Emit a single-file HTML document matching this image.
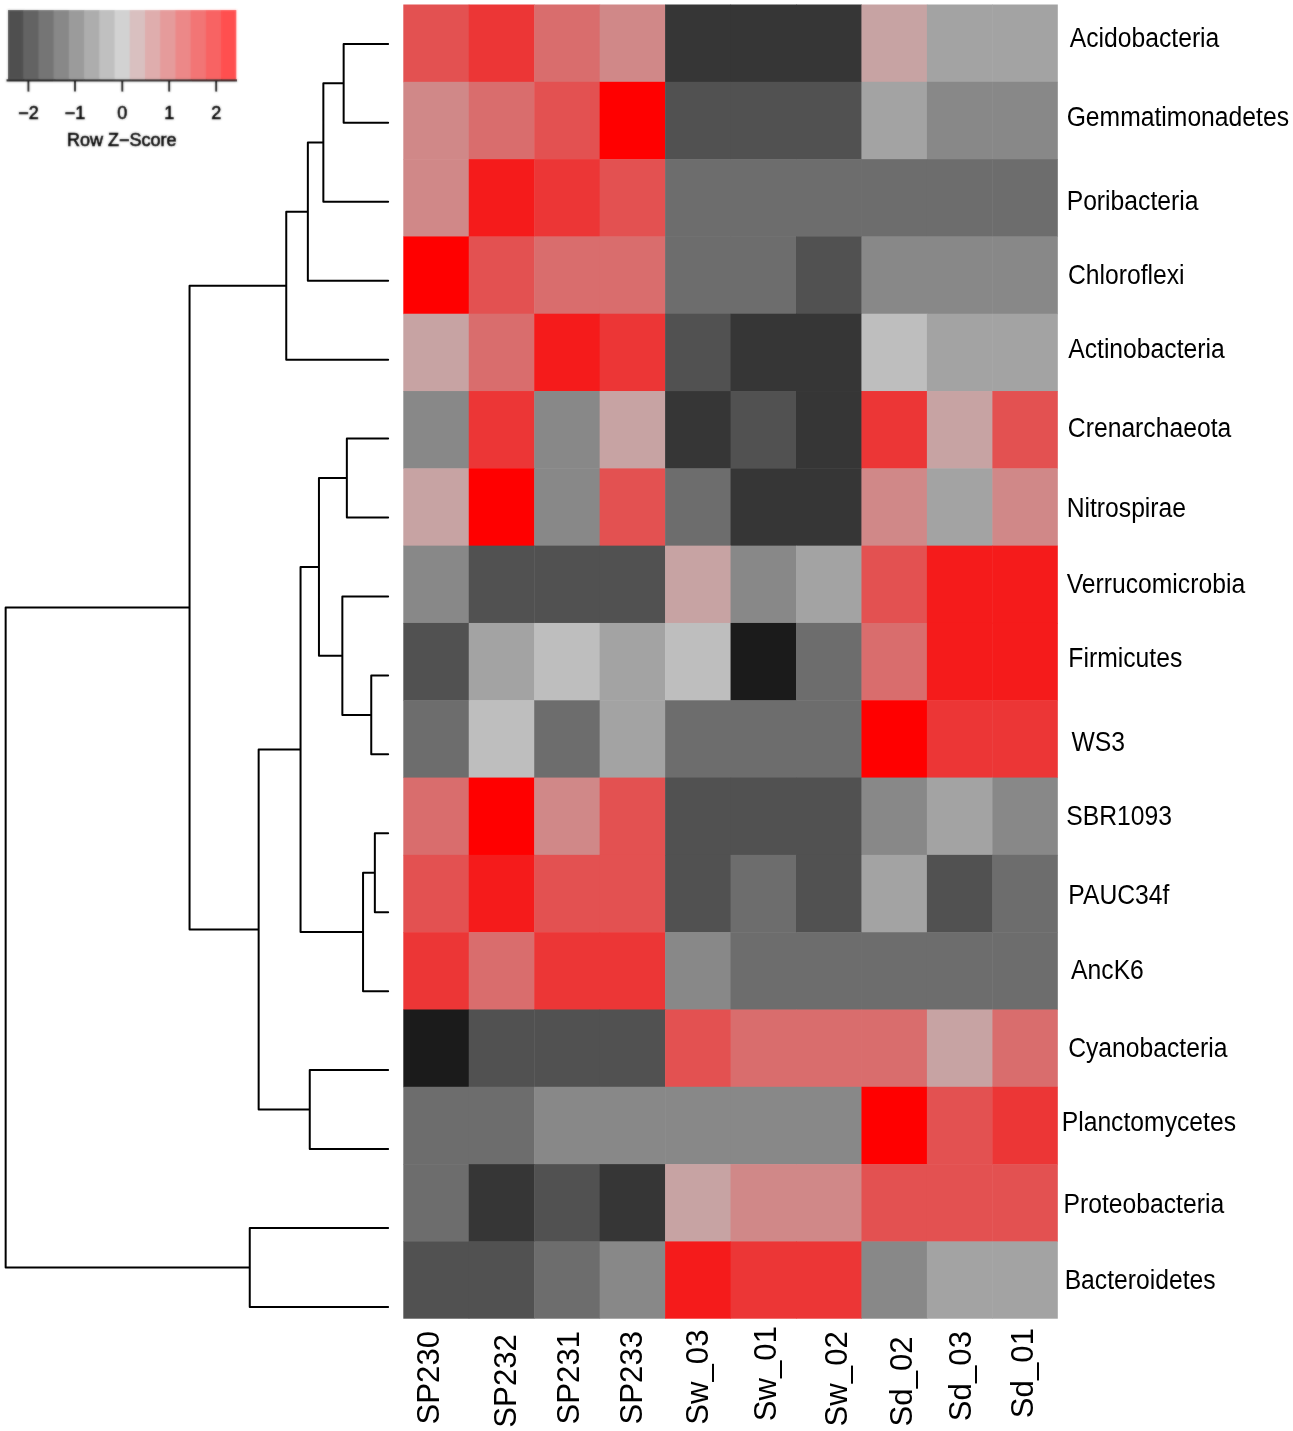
<!DOCTYPE html>
<html lang="en">
<head>
<meta charset="utf-8">
<title>Row Z-Score heatmap</title>
<style>
html,body{margin:0;padding:0;background:#ffffff;}
body{width:1293px;height:1431px;overflow:hidden;}
svg{display:block;}
text{font-family:"Liberation Sans",Arial,Helvetica,sans-serif;fill:#000;}
.rl{font-size:24.7px;}
.cl{font-size:31.2px;}
.kl{font-size:18px;fill:#000;stroke:#000;stroke-width:0.6;}
.d{fill:none;stroke:#000;stroke-width:2;stroke-linejoin:round;stroke-linecap:round;}
</style>
</head>
<body>
<svg width="1293" height="1431" viewBox="0 0 1293 1431">
<rect x="0" y="0" width="1293" height="1431" fill="#ffffff"/>

<defs><filter id="soft" x="-5%" y="-10%" width="110%" height="130%"><feGaussianBlur in="SourceGraphic" stdDeviation="0.8" result="b"/><feComposite in="SourceGraphic" in2="b" operator="arithmetic" k1="0" k2="0.5" k3="0.5" k4="0"/></filter></defs>
<g id="key" filter="url(#soft)">
<rect x="8.00" y="10.00" width="16.22" height="69.60" fill="#505050"/>
<rect x="23.22" y="10.00" width="16.22" height="69.60" fill="#636363"/>
<rect x="38.44" y="10.00" width="16.22" height="69.60" fill="#757575"/>
<rect x="53.66" y="10.00" width="16.22" height="69.60" fill="#888888"/>
<rect x="68.88" y="10.00" width="16.22" height="69.60" fill="#9b9b9b"/>
<rect x="84.10" y="10.00" width="16.22" height="69.60" fill="#adadad"/>
<rect x="99.32" y="10.00" width="16.22" height="69.60" fill="#c0c0c0"/>
<rect x="114.54" y="10.00" width="16.22" height="69.60" fill="#d2d2d2"/>
<rect x="129.76" y="10.00" width="16.22" height="69.60" fill="#d9c0c0"/>
<rect x="144.98" y="10.00" width="16.22" height="69.60" fill="#dfadad"/>
<rect x="160.20" y="10.00" width="16.22" height="69.60" fill="#e59b9b"/>
<rect x="175.42" y="10.00" width="16.22" height="69.60" fill="#ec8888"/>
<rect x="190.64" y="10.00" width="16.22" height="69.60" fill="#f27575"/>
<rect x="205.86" y="10.00" width="16.22" height="69.60" fill="#f86363"/>
<rect x="221.08" y="10.00" width="15.22" height="69.60" fill="#ff5050"/>
<line x1="6.5" y1="80.4" x2="237" y2="80.4" stroke="#1a1a1a" stroke-width="2.1"/>
<line x1="28.4" y1="80.4" x2="28.4" y2="91.6" stroke="#1a1a1a" stroke-width="1.9"/>
<text class="kl" x="28.4" y="118.8" text-anchor="middle">−2</text>
<line x1="75.0" y1="80.4" x2="75.0" y2="91.6" stroke="#1a1a1a" stroke-width="1.9"/>
<text class="kl" x="75.0" y="118.8" text-anchor="middle">−1</text>
<line x1="122.3" y1="80.4" x2="122.3" y2="91.6" stroke="#1a1a1a" stroke-width="1.9"/>
<text class="kl" x="122.3" y="118.8" text-anchor="middle">0</text>
<line x1="169.2" y1="80.4" x2="169.2" y2="91.6" stroke="#1a1a1a" stroke-width="1.9"/>
<text class="kl" x="169.2" y="118.8" text-anchor="middle">1</text>
<line x1="216.2" y1="80.4" x2="216.2" y2="91.6" stroke="#1a1a1a" stroke-width="1.9"/>
<text class="kl" x="216.2" y="118.8" text-anchor="middle">2</text>
<text class="kl" x="121.8" y="146.3" text-anchor="middle">Row Z−Score</text>
</g>
<g id="heat">
<rect x="403.30" y="4.50" width="65.95" height="77.81" fill="#e35151"/>
<rect x="468.75" y="4.50" width="65.95" height="77.81" fill="#ec3636"/>
<rect x="534.20" y="4.50" width="65.95" height="77.81" fill="#d96d6d"/>
<rect x="599.65" y="4.50" width="65.95" height="77.81" fill="#d08888"/>
<rect x="665.10" y="4.50" width="65.95" height="77.81" fill="#363636"/>
<rect x="730.55" y="4.50" width="65.95" height="77.81" fill="#363636"/>
<rect x="796.00" y="4.50" width="65.95" height="77.81" fill="#363636"/>
<rect x="861.45" y="4.50" width="65.95" height="77.81" fill="#c7a3a3"/>
<rect x="926.90" y="4.50" width="65.95" height="77.81" fill="#a3a3a3"/>
<rect x="992.35" y="4.50" width="65.45" height="77.81" fill="#a3a3a3"/>
<rect x="403.30" y="81.81" width="65.95" height="77.81" fill="#d08888"/>
<rect x="468.75" y="81.81" width="65.95" height="77.81" fill="#d96d6d"/>
<rect x="534.20" y="81.81" width="65.95" height="77.81" fill="#e35151"/>
<rect x="599.65" y="81.81" width="65.95" height="77.81" fill="#ff0000"/>
<rect x="665.10" y="81.81" width="65.95" height="77.81" fill="#515151"/>
<rect x="730.55" y="81.81" width="65.95" height="77.81" fill="#515151"/>
<rect x="796.00" y="81.81" width="65.95" height="77.81" fill="#515151"/>
<rect x="861.45" y="81.81" width="65.95" height="77.81" fill="#a3a3a3"/>
<rect x="926.90" y="81.81" width="65.95" height="77.81" fill="#888888"/>
<rect x="992.35" y="81.81" width="65.45" height="77.81" fill="#888888"/>
<rect x="403.30" y="159.11" width="65.95" height="77.81" fill="#d08888"/>
<rect x="468.75" y="159.11" width="65.95" height="77.81" fill="#f51b1b"/>
<rect x="534.20" y="159.11" width="65.95" height="77.81" fill="#ec3636"/>
<rect x="599.65" y="159.11" width="65.95" height="77.81" fill="#e35151"/>
<rect x="665.10" y="159.11" width="65.95" height="77.81" fill="#6d6d6d"/>
<rect x="730.55" y="159.11" width="65.95" height="77.81" fill="#6d6d6d"/>
<rect x="796.00" y="159.11" width="65.95" height="77.81" fill="#6d6d6d"/>
<rect x="861.45" y="159.11" width="65.95" height="77.81" fill="#6d6d6d"/>
<rect x="926.90" y="159.11" width="65.95" height="77.81" fill="#6d6d6d"/>
<rect x="992.35" y="159.11" width="65.45" height="77.81" fill="#6d6d6d"/>
<rect x="403.30" y="236.42" width="65.95" height="77.81" fill="#ff0000"/>
<rect x="468.75" y="236.42" width="65.95" height="77.81" fill="#e35151"/>
<rect x="534.20" y="236.42" width="65.95" height="77.81" fill="#d96d6d"/>
<rect x="599.65" y="236.42" width="65.95" height="77.81" fill="#d96d6d"/>
<rect x="665.10" y="236.42" width="65.95" height="77.81" fill="#6d6d6d"/>
<rect x="730.55" y="236.42" width="65.95" height="77.81" fill="#6d6d6d"/>
<rect x="796.00" y="236.42" width="65.95" height="77.81" fill="#515151"/>
<rect x="861.45" y="236.42" width="65.95" height="77.81" fill="#888888"/>
<rect x="926.90" y="236.42" width="65.95" height="77.81" fill="#888888"/>
<rect x="992.35" y="236.42" width="65.45" height="77.81" fill="#888888"/>
<rect x="403.30" y="313.72" width="65.95" height="77.81" fill="#c7a3a3"/>
<rect x="468.75" y="313.72" width="65.95" height="77.81" fill="#d96d6d"/>
<rect x="534.20" y="313.72" width="65.95" height="77.81" fill="#f51b1b"/>
<rect x="599.65" y="313.72" width="65.95" height="77.81" fill="#ec3636"/>
<rect x="665.10" y="313.72" width="65.95" height="77.81" fill="#515151"/>
<rect x="730.55" y="313.72" width="65.95" height="77.81" fill="#363636"/>
<rect x="796.00" y="313.72" width="65.95" height="77.81" fill="#363636"/>
<rect x="861.45" y="313.72" width="65.95" height="77.81" fill="#bebebe"/>
<rect x="926.90" y="313.72" width="65.95" height="77.81" fill="#a3a3a3"/>
<rect x="992.35" y="313.72" width="65.45" height="77.81" fill="#a3a3a3"/>
<rect x="403.30" y="391.03" width="65.95" height="77.81" fill="#888888"/>
<rect x="468.75" y="391.03" width="65.95" height="77.81" fill="#ec3636"/>
<rect x="534.20" y="391.03" width="65.95" height="77.81" fill="#888888"/>
<rect x="599.65" y="391.03" width="65.95" height="77.81" fill="#c7a3a3"/>
<rect x="665.10" y="391.03" width="65.95" height="77.81" fill="#363636"/>
<rect x="730.55" y="391.03" width="65.95" height="77.81" fill="#515151"/>
<rect x="796.00" y="391.03" width="65.95" height="77.81" fill="#363636"/>
<rect x="861.45" y="391.03" width="65.95" height="77.81" fill="#ec3636"/>
<rect x="926.90" y="391.03" width="65.95" height="77.81" fill="#c7a3a3"/>
<rect x="992.35" y="391.03" width="65.45" height="77.81" fill="#e35151"/>
<rect x="403.30" y="468.34" width="65.95" height="77.81" fill="#c7a3a3"/>
<rect x="468.75" y="468.34" width="65.95" height="77.81" fill="#ff0000"/>
<rect x="534.20" y="468.34" width="65.95" height="77.81" fill="#888888"/>
<rect x="599.65" y="468.34" width="65.95" height="77.81" fill="#e35151"/>
<rect x="665.10" y="468.34" width="65.95" height="77.81" fill="#6d6d6d"/>
<rect x="730.55" y="468.34" width="65.95" height="77.81" fill="#363636"/>
<rect x="796.00" y="468.34" width="65.95" height="77.81" fill="#363636"/>
<rect x="861.45" y="468.34" width="65.95" height="77.81" fill="#d08888"/>
<rect x="926.90" y="468.34" width="65.95" height="77.81" fill="#a3a3a3"/>
<rect x="992.35" y="468.34" width="65.45" height="77.81" fill="#d08888"/>
<rect x="403.30" y="545.64" width="65.95" height="77.81" fill="#888888"/>
<rect x="468.75" y="545.64" width="65.95" height="77.81" fill="#515151"/>
<rect x="534.20" y="545.64" width="65.95" height="77.81" fill="#515151"/>
<rect x="599.65" y="545.64" width="65.95" height="77.81" fill="#515151"/>
<rect x="665.10" y="545.64" width="65.95" height="77.81" fill="#c7a3a3"/>
<rect x="730.55" y="545.64" width="65.95" height="77.81" fill="#888888"/>
<rect x="796.00" y="545.64" width="65.95" height="77.81" fill="#a3a3a3"/>
<rect x="861.45" y="545.64" width="65.95" height="77.81" fill="#e35151"/>
<rect x="926.90" y="545.64" width="65.95" height="77.81" fill="#f51b1b"/>
<rect x="992.35" y="545.64" width="65.45" height="77.81" fill="#f51b1b"/>
<rect x="403.30" y="622.95" width="65.95" height="77.81" fill="#515151"/>
<rect x="468.75" y="622.95" width="65.95" height="77.81" fill="#a3a3a3"/>
<rect x="534.20" y="622.95" width="65.95" height="77.81" fill="#bebebe"/>
<rect x="599.65" y="622.95" width="65.95" height="77.81" fill="#a3a3a3"/>
<rect x="665.10" y="622.95" width="65.95" height="77.81" fill="#bebebe"/>
<rect x="730.55" y="622.95" width="65.95" height="77.81" fill="#1b1b1b"/>
<rect x="796.00" y="622.95" width="65.95" height="77.81" fill="#6d6d6d"/>
<rect x="861.45" y="622.95" width="65.95" height="77.81" fill="#d96d6d"/>
<rect x="926.90" y="622.95" width="65.95" height="77.81" fill="#f51b1b"/>
<rect x="992.35" y="622.95" width="65.45" height="77.81" fill="#f51b1b"/>
<rect x="403.30" y="700.25" width="65.95" height="77.81" fill="#6d6d6d"/>
<rect x="468.75" y="700.25" width="65.95" height="77.81" fill="#bebebe"/>
<rect x="534.20" y="700.25" width="65.95" height="77.81" fill="#6d6d6d"/>
<rect x="599.65" y="700.25" width="65.95" height="77.81" fill="#a3a3a3"/>
<rect x="665.10" y="700.25" width="65.95" height="77.81" fill="#6d6d6d"/>
<rect x="730.55" y="700.25" width="65.95" height="77.81" fill="#6d6d6d"/>
<rect x="796.00" y="700.25" width="65.95" height="77.81" fill="#6d6d6d"/>
<rect x="861.45" y="700.25" width="65.95" height="77.81" fill="#ff0000"/>
<rect x="926.90" y="700.25" width="65.95" height="77.81" fill="#ec3636"/>
<rect x="992.35" y="700.25" width="65.45" height="77.81" fill="#ec3636"/>
<rect x="403.30" y="777.56" width="65.95" height="77.81" fill="#d96d6d"/>
<rect x="468.75" y="777.56" width="65.95" height="77.81" fill="#ff0000"/>
<rect x="534.20" y="777.56" width="65.95" height="77.81" fill="#d08888"/>
<rect x="599.65" y="777.56" width="65.95" height="77.81" fill="#e35151"/>
<rect x="665.10" y="777.56" width="65.95" height="77.81" fill="#515151"/>
<rect x="730.55" y="777.56" width="65.95" height="77.81" fill="#515151"/>
<rect x="796.00" y="777.56" width="65.95" height="77.81" fill="#515151"/>
<rect x="861.45" y="777.56" width="65.95" height="77.81" fill="#888888"/>
<rect x="926.90" y="777.56" width="65.95" height="77.81" fill="#a3a3a3"/>
<rect x="992.35" y="777.56" width="65.45" height="77.81" fill="#888888"/>
<rect x="403.30" y="854.86" width="65.95" height="77.81" fill="#e35151"/>
<rect x="468.75" y="854.86" width="65.95" height="77.81" fill="#f51b1b"/>
<rect x="534.20" y="854.86" width="65.95" height="77.81" fill="#e35151"/>
<rect x="599.65" y="854.86" width="65.95" height="77.81" fill="#e35151"/>
<rect x="665.10" y="854.86" width="65.95" height="77.81" fill="#515151"/>
<rect x="730.55" y="854.86" width="65.95" height="77.81" fill="#6d6d6d"/>
<rect x="796.00" y="854.86" width="65.95" height="77.81" fill="#515151"/>
<rect x="861.45" y="854.86" width="65.95" height="77.81" fill="#a3a3a3"/>
<rect x="926.90" y="854.86" width="65.95" height="77.81" fill="#515151"/>
<rect x="992.35" y="854.86" width="65.45" height="77.81" fill="#6d6d6d"/>
<rect x="403.30" y="932.17" width="65.95" height="77.81" fill="#ec3636"/>
<rect x="468.75" y="932.17" width="65.95" height="77.81" fill="#d96d6d"/>
<rect x="534.20" y="932.17" width="65.95" height="77.81" fill="#ec3636"/>
<rect x="599.65" y="932.17" width="65.95" height="77.81" fill="#ec3636"/>
<rect x="665.10" y="932.17" width="65.95" height="77.81" fill="#888888"/>
<rect x="730.55" y="932.17" width="65.95" height="77.81" fill="#6d6d6d"/>
<rect x="796.00" y="932.17" width="65.95" height="77.81" fill="#6d6d6d"/>
<rect x="861.45" y="932.17" width="65.95" height="77.81" fill="#6d6d6d"/>
<rect x="926.90" y="932.17" width="65.95" height="77.81" fill="#6d6d6d"/>
<rect x="992.35" y="932.17" width="65.45" height="77.81" fill="#6d6d6d"/>
<rect x="403.30" y="1009.48" width="65.95" height="77.81" fill="#1b1b1b"/>
<rect x="468.75" y="1009.48" width="65.95" height="77.81" fill="#515151"/>
<rect x="534.20" y="1009.48" width="65.95" height="77.81" fill="#515151"/>
<rect x="599.65" y="1009.48" width="65.95" height="77.81" fill="#515151"/>
<rect x="665.10" y="1009.48" width="65.95" height="77.81" fill="#e35151"/>
<rect x="730.55" y="1009.48" width="65.95" height="77.81" fill="#d96d6d"/>
<rect x="796.00" y="1009.48" width="65.95" height="77.81" fill="#d96d6d"/>
<rect x="861.45" y="1009.48" width="65.95" height="77.81" fill="#d96d6d"/>
<rect x="926.90" y="1009.48" width="65.95" height="77.81" fill="#c7a3a3"/>
<rect x="992.35" y="1009.48" width="65.45" height="77.81" fill="#d96d6d"/>
<rect x="403.30" y="1086.78" width="65.95" height="77.81" fill="#6d6d6d"/>
<rect x="468.75" y="1086.78" width="65.95" height="77.81" fill="#6d6d6d"/>
<rect x="534.20" y="1086.78" width="65.95" height="77.81" fill="#888888"/>
<rect x="599.65" y="1086.78" width="65.95" height="77.81" fill="#888888"/>
<rect x="665.10" y="1086.78" width="65.95" height="77.81" fill="#888888"/>
<rect x="730.55" y="1086.78" width="65.95" height="77.81" fill="#888888"/>
<rect x="796.00" y="1086.78" width="65.95" height="77.81" fill="#888888"/>
<rect x="861.45" y="1086.78" width="65.95" height="77.81" fill="#ff0000"/>
<rect x="926.90" y="1086.78" width="65.95" height="77.81" fill="#e35151"/>
<rect x="992.35" y="1086.78" width="65.45" height="77.81" fill="#ec3636"/>
<rect x="403.30" y="1164.09" width="65.95" height="77.81" fill="#6d6d6d"/>
<rect x="468.75" y="1164.09" width="65.95" height="77.81" fill="#363636"/>
<rect x="534.20" y="1164.09" width="65.95" height="77.81" fill="#515151"/>
<rect x="599.65" y="1164.09" width="65.95" height="77.81" fill="#363636"/>
<rect x="665.10" y="1164.09" width="65.95" height="77.81" fill="#c7a3a3"/>
<rect x="730.55" y="1164.09" width="65.95" height="77.81" fill="#d08888"/>
<rect x="796.00" y="1164.09" width="65.95" height="77.81" fill="#d08888"/>
<rect x="861.45" y="1164.09" width="65.95" height="77.81" fill="#e35151"/>
<rect x="926.90" y="1164.09" width="65.95" height="77.81" fill="#e35151"/>
<rect x="992.35" y="1164.09" width="65.45" height="77.81" fill="#e35151"/>
<rect x="403.30" y="1241.39" width="65.95" height="77.31" fill="#515151"/>
<rect x="468.75" y="1241.39" width="65.95" height="77.31" fill="#515151"/>
<rect x="534.20" y="1241.39" width="65.95" height="77.31" fill="#6d6d6d"/>
<rect x="599.65" y="1241.39" width="65.95" height="77.31" fill="#888888"/>
<rect x="665.10" y="1241.39" width="65.95" height="77.31" fill="#f51b1b"/>
<rect x="730.55" y="1241.39" width="65.95" height="77.31" fill="#ec3636"/>
<rect x="796.00" y="1241.39" width="65.95" height="77.31" fill="#ec3636"/>
<rect x="861.45" y="1241.39" width="65.95" height="77.31" fill="#888888"/>
<rect x="926.90" y="1241.39" width="65.95" height="77.31" fill="#a3a3a3"/>
<rect x="992.35" y="1241.39" width="65.45" height="77.31" fill="#a3a3a3"/>
</g>
<g id="rowlabels">
<text class="rl" transform="translate(1069.70 47.00) scale(1 1.090)">Acidobacteria</text>
<text class="rl" transform="translate(1066.65 125.50) scale(1 1.090)">Gemmatimonadetes</text>
<text class="rl" transform="translate(1066.66 209.50) scale(1 1.090)">Poribacteria</text>
<text class="rl" transform="translate(1067.95 283.75) scale(1 1.090)">Chloroflexi</text>
<text class="rl" transform="translate(1068.20 357.97) scale(1 1.090)">Actinobacteria</text>
<text class="rl" transform="translate(1067.87 436.55) scale(1 1.090)">Crenarchaeota</text>
<text class="rl" transform="translate(1066.66 516.66) scale(1 1.090)">Nitrospirae</text>
<text class="rl" transform="translate(1066.70 592.83) scale(1 1.090)">Verrucomicrobia</text>
<text class="rl" transform="translate(1068.36 667.10) scale(1 1.090)">Firmicutes</text>
<text class="rl" transform="translate(1071.40 750.83) scale(1 1.090)">WS3</text>
<text class="rl" transform="translate(1066.30 824.90) scale(1 1.090)">SBR1093</text>
<text class="rl" transform="translate(1068.30 904.00) scale(1 1.090)">PAUC34f</text>
<text class="rl" transform="translate(1071.10 979.25) scale(1 1.090)">AncK6</text>
<text class="rl" transform="translate(1068.17 1057.40) scale(1 1.090)">Cyanobacteria</text>
<text class="rl" transform="translate(1061.70 1131.00) scale(1 1.090)">Planctomycetes</text>
<text class="rl" transform="translate(1063.53 1213.45) scale(1 1.090)">Proteobacteria</text>
<text class="rl" transform="translate(1064.64 1289.40) scale(1 1.090)">Bacteroidetes</text>
</g>
<g id="collabels">
<text class="cl" transform="translate(438.7 1424.5) rotate(-90)" x="0" y="0">SP230</text>
<text class="cl" transform="translate(515.9 1427.7) rotate(-90)" x="0" y="0">SP232</text>
<text class="cl" transform="translate(578.7 1424.5) rotate(-90)" x="0" y="0">SP231</text>
<text class="cl" transform="translate(641.7 1424.5) rotate(-90)" x="0" y="0">SP233</text>
<text class="cl" transform="translate(707.9 1424.8) rotate(-90)" x="0" y="0">Sw_03</text>
<text class="cl" transform="translate(776.2 1421.3) rotate(-90)" x="0" y="0">Sw_01</text>
<text class="cl" transform="translate(846.6 1426.5) rotate(-90)" x="0" y="0">Sw_02</text>
<text class="cl" transform="translate(912.0 1426.5) rotate(-90)" x="0" y="0">Sd_02</text>
<text class="cl" transform="translate(971.2 1421.2) rotate(-90)" x="0" y="0">Sd_03</text>
<text class="cl" transform="translate(1032.8 1418.2) rotate(-90)" x="0" y="0">Sd_01</text>
</g>
<path class="d" d="M388.15 43.90 H343.65 V122.84 H388.15 M343.65 83.37 H323.35 V201.78 H388.15 M323.35 142.57 H307.85 V280.72 H388.15 M307.85 211.65 H286.25 V359.66 H388.15 M388.15 438.60 H346.85 V517.54 H388.15 M388.15 675.42 H371.25 V754.36 H388.15 M388.15 596.48 H342.35 V714.89 H371.25 M346.85 478.07 H318.95 V655.68 H342.35 M388.15 833.30 H374.85 V912.24 H388.15 M374.85 872.77 H363.05 V991.18 H388.15 M318.95 566.88 H300.55 V931.97 H363.05 M388.15 1070.12 H309.75 V1149.06 H388.15 M300.55 749.43 H258.65 V1109.59 H309.75 M286.25 285.65 H189.55 V929.51 H258.65 M388.15 1228.00 H249.75 V1306.94 H388.15 M189.55 607.58 H5.65 V1267.47 H249.75"/>
</svg>
</body>
</html>
